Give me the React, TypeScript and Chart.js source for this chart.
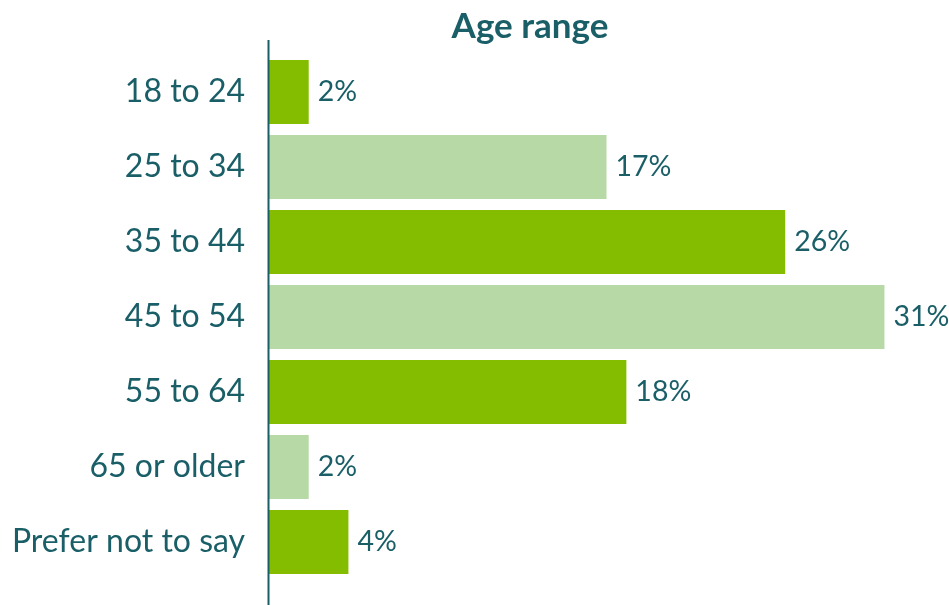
import React, { useEffect, useRef } from "react";
import { Chart, registerables } from "chart.js";

Chart.register(...registerables);

const categories = ["18 to 24", "25 to 34", "35 to 44", "45 to 54", "55 to 64", "65 or older", "Prefer not to say"];
const values = [2, 17, 26, 31, 18, 2, 4];
const barColors = ["#84bc00", "#b7d9a6", "#84bc00", "#b7d9a6", "#84bc00", "#b7d9a6", "#84bc00"];
const chartTitle = "Age range";

const TEXT = "#1a5f67";
const FONT = "Lato, 'Open Sans', sans-serif";

export default function App() {
  const ref = useRef<HTMLCanvasElement>(null);
  useEffect(() => {
    document.body.style.margin = "0";
    const canvas = ref.current!;
    const extras = {
      id: "extras",
      afterDatasetsDraw(chart: any) {
        const { ctx, chartArea } = chart;
        const meta = chart.getDatasetMeta(0);
        ctx.save();
        ctx.font = `400 28.5px ${FONT}`;
        ctx.fillStyle = TEXT;
        ctx.textAlign = "left";
        ctx.textBaseline = "middle";
        meta.data.forEach((bar: any, i: number) => {
          ctx.fillText(values[i] + "%", bar.x + 9, bar.y);
        });
        // axis line
        ctx.strokeStyle = TEXT;
        ctx.lineWidth = 2;
        ctx.beginPath();
        ctx.moveTo(chartArea.left - 0.5, 40);
        ctx.lineTo(chartArea.left - 0.5, chart.height);
        ctx.stroke();
        // title
        ctx.font = `700 35px ${FONT}`;
        ctx.textAlign = "center";
        ctx.fillText(chartTitle, 530, 27);
        ctx.restore();
      },
    };
    const chart = new Chart(canvas, {
      type: "bar",
      data: {
        labels: categories,
        datasets: [
          {
            data: values,
            backgroundColor: barColors,
            borderWidth: 0,
            barPercentage: 0.853,
            categoryPercentage: 1,
          },
        ],
      },
      options: {
        indexAxis: "y",
        animation: false,
        responsive: false,
        layout: { padding: { top: 54.5, bottom: 25.5, left: 0, right: 5 } },
        plugins: { legend: { display: false }, title: { display: false }, tooltip: { enabled: false } },
        scales: {
          x: { display: false, min: 0, max: 34 },
          y: {
            afterFit: (s: any) => {
              s.width = 269;
              s.paddingTop = 0;
              s.paddingBottom = 0;
            },
            grid: { display: false, drawTicks: false },
            border: { display: false },
            ticks: { color: TEXT, font: { family: FONT, size: 32 }, padding: 24 },
          },
        },
      },
      plugins: [extras],
    });
    return () => chart.destroy();
  }, []);
  return <canvas ref={ref} width={949} height={605} style={{ display: "block" }} />;
}
